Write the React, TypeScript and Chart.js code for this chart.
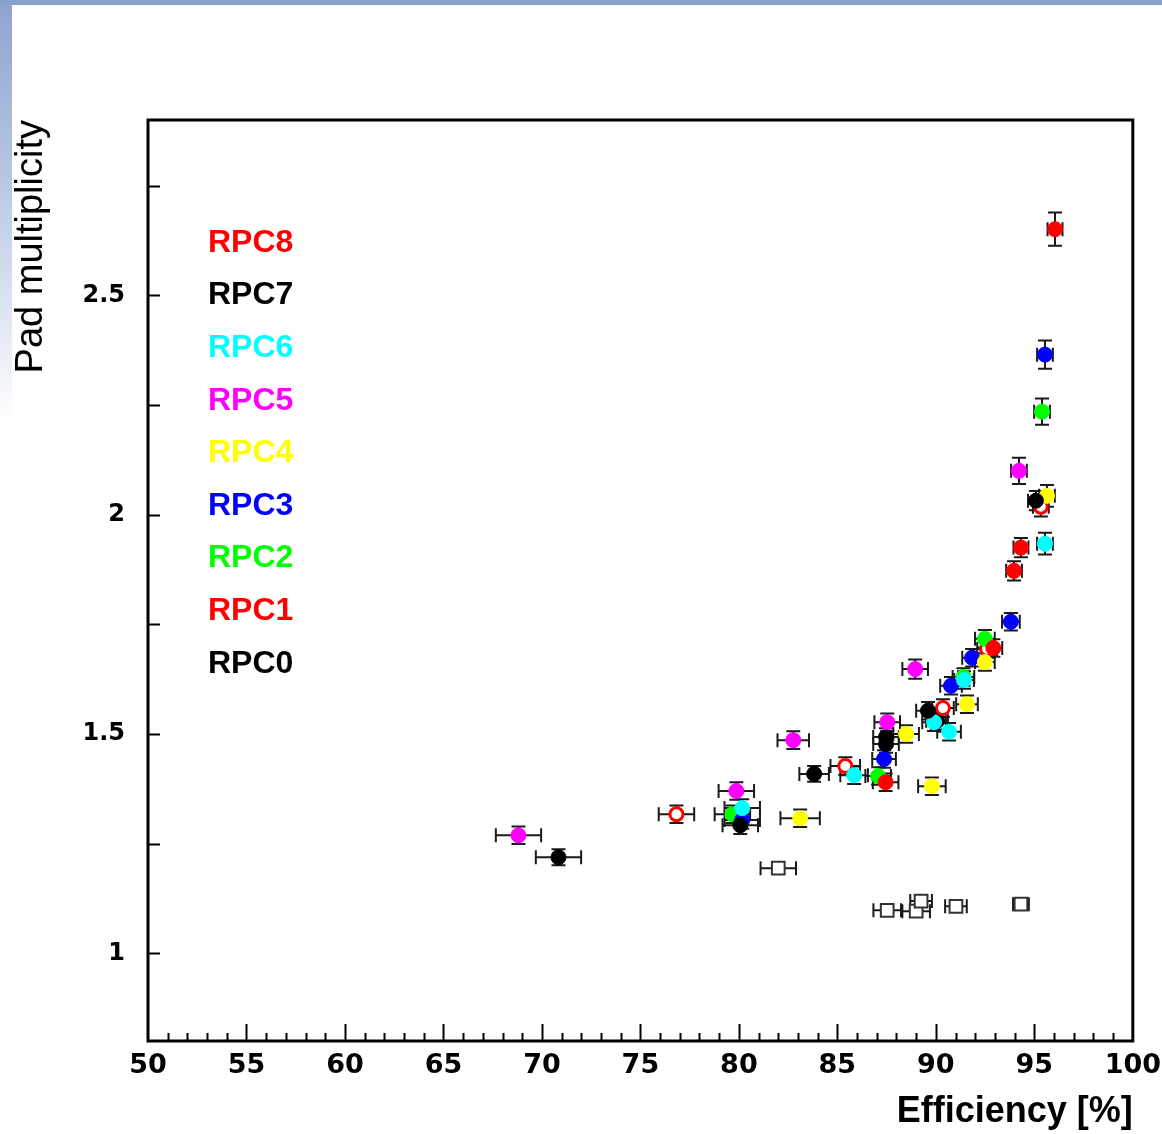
import React, { useEffect, useRef } from "react";
import { Chart, registerables } from "chart.js";

Chart.register(...registerables);

// ---- data ----
const legendLabels = ["RPC8", "RPC7", "RPC6", "RPC5", "RPC4", "RPC3", "RPC2", "RPC1", "RPC0"];
const legendColors = ["#ff0000", "#000000", "#00ffff", "#ff00ff", "#ffff00", "#0000ff", "#00ff00", "#ff0000", "#000000"];

const xTickValues = [50, 55, 60, 65, 70, 75, 80, 85, 90, 95, 100];
const yTickValues = [1, 1.5, 2, 2.5];

const rpc8X = [96.05, 94.32, 93.97, 92.92, 87.45];
const rpc8Y = [2.651, 1.925, 1.872, 1.696, 1.39];
const rpc8XErr = [0.38, 0.38, 0.4, 0.45, 0.65];
const rpc8YErr = [0.038, 0.022, 0.022, 0.02, 0.02];

const rpc7X = [95.08, 89.6, 87.47, 80.07];
const rpc7Y = [2.032, 1.553, 1.477, 1.292];
const rpc7XErr = [0.4, 0.6, 0.65, 0.9];
const rpc7YErr = [0.022, 0.02, 0.02, 0.02];

const rpc6X = [95.54, 91.43, 89.91, 90.67, 85.85, 80.17];
const rpc6Y = [1.934, 1.623, 1.527, 1.505, 1.406, 1.331];
const rpc6XErr = [0.4, 0.5, 0.6, 0.6, 0.7, 0.9];
const rpc6YErr = [0.025, 0.02, 0.02, 0.02, 0.02, 0.02];

const rpc5X = [94.22, 88.95, 87.53, 82.76, 79.87, 68.81];
const rpc5Y = [2.1, 1.648, 1.527, 1.486, 1.37, 1.269];
const rpc5XErr = [0.4, 0.65, 0.65, 0.8, 0.9, 1.15];
const rpc5YErr = [0.03, 0.022, 0.02, 0.02, 0.02, 0.02];

const rpc4X = [95.64, 92.49, 91.58, 88.49, 89.8, 83.11];
const rpc4Y = [2.043, 1.664, 1.568, 1.5, 1.381, 1.308];
const rpc4XErr = [0.4, 0.5, 0.55, 0.65, 0.7, 1.0];
const rpc4YErr = [0.025, 0.02, 0.02, 0.02, 0.02, 0.02];

const rpc3X = [95.54, 93.81, 91.84, 90.77, 87.37, 80.17];
const rpc3Y = [2.365, 1.756, 1.674, 1.61, 1.443, 1.304];
const rpc3XErr = [0.4, 0.45, 0.5, 0.55, 0.6, 0.9];
const rpc3YErr = [0.032, 0.02, 0.02, 0.02, 0.02, 0.02];

const rpc2X = [95.39, 92.49, 91.4, 87.07, 79.67];
const rpc2Y = [2.235, 1.717, 1.63, 1.404, 1.317];
const rpc2XErr = [0.4, 0.5, 0.55, 0.65, 0.9];
const rpc2YErr = [0.03, 0.02, 0.02, 0.02, 0.02];

const rpc1X = [95.33, 92.6, 90.36, 85.4, 76.83];
const rpc1Y = [2.018, 1.694, 1.559, 1.427, 1.317];
const rpc1XErr = [0.4, 0.5, 0.55, 0.75, 0.9];
const rpc1YErr = [0.022, 0.02, 0.02, 0.02, 0.02];

const rpc0X = [90.06, 87.47, 83.82, 70.84];
const rpc0Y = [1.53, 1.493, 1.409, 1.219];
const rpc0XErr = [0.55, 0.65, 0.75, 1.15];
const rpc0YErr = [0.02, 0.02, 0.018, 0.018];

const squareX = [82.0, 87.53, 89.0, 89.25, 91.02, 94.32];
const squareY = [1.194, 1.098, 1.096, 1.119, 1.107, 1.112];
const squareXErr = [0.9, 0.7, 0.7, 0.55, 0.55, 0.4];

// ---- helpers ----
function pts(xs: number[], ys: number[], xe: number[], ye?: number[]) {
  return xs.map((x, i) => ({ x, y: ys[i], xErr: xe[i], yErr: ye ? ye[i] : 0 }));
}

function filled(label: string, color: string, data: any[]) {
  return {
    label,
    data,
    pointStyle: "circle",
    pointRadius: 7.5,
    backgroundColor: color,
    borderColor: color,
    borderWidth: 1,
  };
}

const errorBarPlugin = {
  id: "errorBars",
  beforeDatasetsDraw(chart: any) {
    const { ctx } = chart;
    const xs = chart.scales.x;
    const ys = chart.scales.y;
    ctx.save();
    ctx.strokeStyle = "#1a1a1a";
    ctx.lineWidth = 2;
    chart.data.datasets.forEach((ds: any) => {
      ds.data.forEach((p: any) => {
        const px = xs.getPixelForValue(p.x);
        const py = ys.getPixelForValue(p.y);
        ctx.beginPath();
        if (p.xErr) {
          const x1 = xs.getPixelForValue(p.x - p.xErr);
          const x2 = xs.getPixelForValue(p.x + p.xErr);
          ctx.moveTo(x1, py);
          ctx.lineTo(x2, py);
          ctx.moveTo(x1, py - 7);
          ctx.lineTo(x1, py + 7);
          ctx.moveTo(x2, py - 7);
          ctx.lineTo(x2, py + 7);
        }
        if (p.yErr) {
          const y1 = ys.getPixelForValue(p.y - p.yErr);
          const y2 = ys.getPixelForValue(p.y + p.yErr);
          ctx.moveTo(px, y1);
          ctx.lineTo(px, y2);
          ctx.moveTo(px - 7, y1);
          ctx.lineTo(px + 7, y1);
          ctx.moveTo(px - 7, y2);
          ctx.lineTo(px + 7, y2);
        }
        ctx.stroke();
      });
    });
    ctx.restore();
  },
};

const framePlugin = {
  id: "frameTicks",
  beforeDatasetsDraw(chart: any) {
    const { ctx, chartArea } = chart;
    const xs = chart.scales.x;
    const ys = chart.scales.y;
    ctx.save();
    ctx.strokeStyle = "#000";
    ctx.lineWidth = 2;
    ctx.beginPath();
    for (let v = 51; v < 100; v++) {
      const px = Math.round(xs.getPixelForValue(v)) + 0.5;
      const len = v % 5 === 0 ? 17 : 8;
      ctx.moveTo(px, chartArea.bottom);
      ctx.lineTo(px, chartArea.bottom - len);
    }
    for (let k = 4; k <= 11; k++) {
      const v = k * 0.25;
      const py = Math.round(ys.getPixelForValue(v)) + 0.5;
      ctx.moveTo(chartArea.left, py);
      ctx.lineTo(chartArea.left + 12, py);
    }
    ctx.stroke();
    ctx.lineWidth = 3;
    ctx.strokeRect(chartArea.left, chartArea.top, chartArea.right - chartArea.left, chartArea.bottom - chartArea.top);
    ctx.restore();
  },
};

const legendPlugin = {
  id: "textLegend",
  afterDraw(chart: any) {
    const { ctx, chartArea } = chart;
    ctx.save();
    ctx.font = "bold 32px 'Liberation Sans', Arial, sans-serif";
    ctx.textAlign = "left";
    ctx.textBaseline = "middle";
    legendLabels.forEach((t, i) => {
      ctx.fillStyle = legendColors[i];
      ctx.fillText(t, chartArea.left + 60, chartArea.top + 123 + i * 52.6);
    });
    ctx.restore();
  },
};

export default function App() {
  const ref = useRef<HTMLCanvasElement | null>(null);

  useEffect(() => {
    if (!ref.current) return;
    const datasets: any[] = [
      filled("RPC8", "#ff0000", pts(rpc8X, rpc8Y, rpc8XErr, rpc8YErr)),
      filled("RPC7", "#000000", pts(rpc7X, rpc7Y, rpc7XErr, rpc7YErr)),
      filled("RPC6", "#00ffff", pts(rpc6X, rpc6Y, rpc6XErr, rpc6YErr)),
      filled("RPC5", "#ff00ff", pts(rpc5X, rpc5Y, rpc5XErr, rpc5YErr)),
      filled("RPC4", "#ffff00", pts(rpc4X, rpc4Y, rpc4XErr, rpc4YErr)),
      filled("RPC3", "#0000ff", pts(rpc3X, rpc3Y, rpc3XErr, rpc3YErr)),
      filled("RPC2", "#00ff00", pts(rpc2X, rpc2Y, rpc2XErr, rpc2YErr)),
      {
        label: "RPC1",
        data: pts(rpc1X, rpc1Y, rpc1XErr, rpc1YErr),
        pointStyle: "circle",
        pointRadius: 6.5,
        backgroundColor: "#ffffff",
        borderColor: "#ff0000",
        borderWidth: 3,
      },
      filled("RPC0", "#000000", pts(rpc0X, rpc0Y, rpc0XErr, rpc0YErr)),
      {
        label: "reference",
        data: pts(squareX, squareY, squareXErr),
        pointStyle: "rect",
        pointRadius: 9,
        backgroundColor: "#ffffff",
        borderColor: "#333333",
        borderWidth: 2,
      },
    ];

    const chart = new Chart(ref.current, {
      type: "scatter",
      data: { datasets },
      options: {
        animation: false,
        responsive: false,
        layout: { padding: { top: 120, right: 28, left: 0, bottom: 0 } },
        plugins: { legend: { display: false }, tooltip: { enabled: false } },
        scales: {
          x: {
            type: "linear",
            min: 50,
            max: 100,
            afterBuildTicks: (s: any) => {
              s.ticks = xTickValues.map((v) => ({ value: v }));
            },
            afterFit: (s: any) => {
              s.height = 93;
            },
            grid: { display: false },
            border: { display: false },
            ticks: {
              autoSkip: false,
              maxRotation: 0,
              padding: 1,
              color: "#000",
              callback: (v: any) => String(v),
              font: { family: "'DejaVu Sans', sans-serif", size: 27, weight: "bold" },
            },
            title: {
              display: true,
              text: "Efficiency [%]",
              align: "end",
              color: "#000",
              padding: { top: 0, bottom: 0 },
              font: { family: "'Liberation Sans', Arial, sans-serif", size: 36, weight: "bold" },
            },
          },
          y: {
            type: "linear",
            min: 0.8,
            max: 2.9,
            afterBuildTicks: (s: any) => {
              s.ticks = yTickValues.map((v) => ({ value: v }));
            },
            afterFit: (s: any) => {
              s.width = 148;
            },
            grid: { display: false },
            border: { display: false },
            ticks: {
              padding: 15,
              color: "#000",
              callback: (v: any) => String(v),
              font: { family: "'DejaVu Sans', sans-serif", size: 24, weight: "bold" },
            },
            title: {
              display: true,
              text: "Pad multiplicity",
              align: "end",
              color: "#000",
              padding: { top: 9, bottom: 0 },
              font: { family: "'Liberation Sans', Arial, sans-serif", size: 38 },
            },
          },
        },
      },
      plugins: [framePlugin, errorBarPlugin, legendPlugin],
    } as any);
    return () => chart.destroy();
  }, []);

  return (
    <div style={{ position: "absolute", left: 0, top: 0, width: 1162, height: 1134, background: "#fff", overflow: "hidden" }}>
      <div style={{ position: "absolute", left: 0, top: 0, width: 1162, height: 5, background: "#8aa0cc" }} />
      <div
        style={{
          position: "absolute",
          left: 0,
          top: 5,
          width: 12,
          height: 420,
          background: "linear-gradient(to bottom, #8ea4d0, #b6c6e2 40%, #ffffff)",
        }}
      />
      <canvas ref={ref} width={1162} height={1134} style={{ position: "absolute", left: 0, top: 0 }} />
    </div>
  );
}
